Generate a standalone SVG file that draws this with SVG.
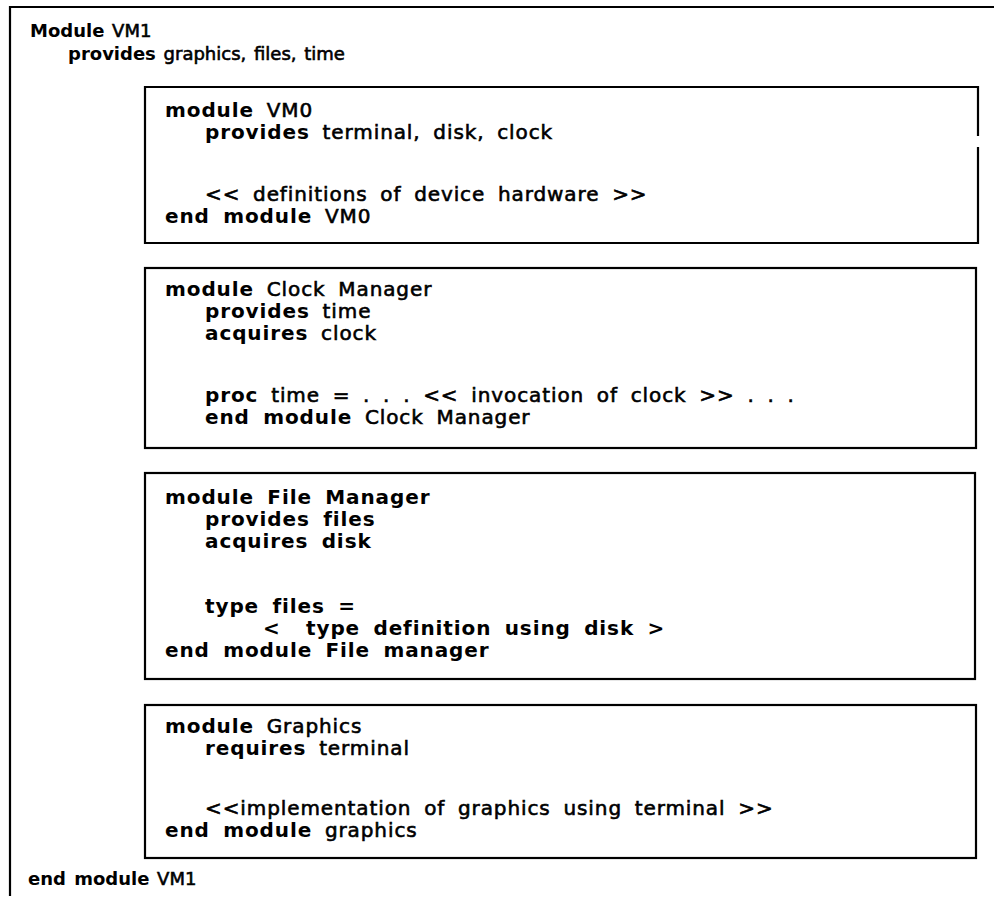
<svg xmlns="http://www.w3.org/2000/svg" width="994" height="907" viewBox="0 0 994 907">
<style>
.frame{fill:none;stroke:#000;stroke-width:2.2;stroke-linecap:square}
.t{font-family:"DejaVu Sans","Liberation Sans",Arial,sans-serif;font-size:20px;letter-spacing:0.9px;word-spacing:5.5px;fill:#000}
.o{font-family:"DejaVu Sans","Liberation Sans",Arial,sans-serif;font-size:18px;word-spacing:2px;fill:#000}
.b{font-weight:bold}
.m{stroke:#000;stroke-width:0.6}
</style>
<rect x="0" y="0" width="994" height="907" fill="#fff"/>
<g id="vm1">
  <path class="frame" d="M994,7 H10 V895"/>
  <text class="o" x="30" y="37"><tspan class="b">Module</tspan><tspan class="m"> VM1</tspan></text>
  <text class="o" x="68" y="60"><tspan class="b">provides</tspan><tspan class="m"> graphics, files, time</tspan></text>
  <text class="o" x="28" y="885"><tspan class="b">end module</tspan><tspan class="m"> VM1</tspan></text>
</g>
<g id="vm0">
  <path class="frame" d="M978,135 V87 H145 V243 H978 V148"/>
  <text class="t" x="165" y="117"><tspan class="b">module</tspan><tspan class="m"> VM0</tspan></text>
  <text class="t" x="205" y="139"><tspan class="b">provides</tspan><tspan class="m"> terminal, disk, clock</tspan></text>
  <text class="t m" x="205" y="201">&lt;&lt; definitions of device hardware &gt;&gt;</text>
  <text class="t" x="165" y="223"><tspan class="b">end module</tspan><tspan class="m"> VM0</tspan></text>
</g>
<g id="clock-manager">
  <rect class="frame" x="145" y="268" width="831" height="180"/>
  <text class="t" x="165" y="296"><tspan class="b">module</tspan><tspan class="m"> Clock Manager</tspan></text>
  <text class="t" x="205" y="318"><tspan class="b">provides</tspan><tspan class="m"> time</tspan></text>
  <text class="t" x="205" y="340"><tspan class="b">acquires</tspan><tspan class="m"> clock</tspan></text>
  <text class="t" x="205" y="402"><tspan class="b">proc</tspan><tspan class="m"> time = . . . &lt;&lt; invocation of clock &gt;&gt; . . .</tspan></text>
  <text class="t" x="205" y="424"><tspan class="b">end module</tspan><tspan class="m"> Clock Manager</tspan></text>
</g>
<g id="file-manager">
  <rect class="frame" x="145" y="473" width="830" height="206"/>
  <text class="t b" x="165" y="504">module File Manager</text>
  <text class="t b" x="205" y="526">provides files</text>
  <text class="t b" x="205" y="548">acquires disk</text>
  <text class="t b" x="205" y="613">type files =</text>
  <text class="t b" y="635"><tspan x="263">&lt;</tspan><tspan x="306">type definition using disk &gt;</tspan></text>
  <text class="t b" x="165" y="657">end module File manager</text>
</g>
<g id="graphics">
  <rect class="frame" x="145" y="705" width="831" height="153"/>
  <text class="t" x="165" y="733"><tspan class="b">module</tspan><tspan class="m"> Graphics</tspan></text>
  <text class="t" x="205" y="755"><tspan class="b">requires</tspan><tspan class="m"> terminal</tspan></text>
  <text class="t m" x="205" y="815">&lt;&lt;implementation of graphics using terminal &gt;&gt;</text>
  <text class="t" x="165" y="837"><tspan class="b">end module</tspan><tspan class="m"> graphics</tspan></text>
</g>
</svg>
